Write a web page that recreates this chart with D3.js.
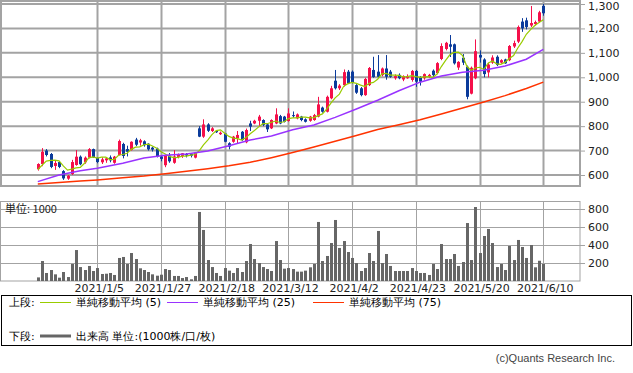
<!DOCTYPE html>
<html>
<head>
<meta charset="utf-8">
<script src="https://cdn.jsdelivr.net/npm/d3@7"></script>
<style>
  body { margin: 0; background: #fff; }
  svg text { font-family: "DejaVu Sans", sans-serif; }
</style>
</head>
<body>
<script>
// trading days, 2020/12/14 .. 2021/6/10
const dates = [
  "2020/12/14","2020/12/15","2020/12/16","2020/12/17","2020/12/18","2020/12/21","2020/12/22","2020/12/23","2020/12/24","2020/12/25",
  "2020/12/28","2020/12/29","2020/12/30","2021/1/4","2021/1/5","2021/1/6","2021/1/7","2021/1/8","2021/1/12","2021/1/13",
  "2021/1/14","2021/1/15","2021/1/18","2021/1/19","2021/1/20","2021/1/21","2021/1/22","2021/1/25","2021/1/26","2021/1/27",
  "2021/1/28","2021/1/29","2021/2/1","2021/2/2","2021/2/3","2021/2/4","2021/2/5","2021/2/8","2021/2/9","2021/2/10",
  "2021/2/12","2021/2/15","2021/2/16","2021/2/17","2021/2/18","2021/2/19","2021/2/22","2021/2/24","2021/2/25","2021/2/26",
  "2021/3/1","2021/3/2","2021/3/3","2021/3/4","2021/3/5","2021/3/8","2021/3/9","2021/3/10","2021/3/11","2021/3/12",
  "2021/3/15","2021/3/16","2021/3/17","2021/3/18","2021/3/19","2021/3/22","2021/3/23","2021/3/24","2021/3/25","2021/3/26",
  "2021/3/29","2021/3/30","2021/3/31","2021/4/1","2021/4/2","2021/4/5","2021/4/6","2021/4/7","2021/4/8","2021/4/9",
  "2021/4/12","2021/4/13","2021/4/14","2021/4/15","2021/4/16","2021/4/19","2021/4/20","2021/4/21","2021/4/22","2021/4/23",
  "2021/4/26","2021/4/27","2021/4/28","2021/4/30","2021/5/6","2021/5/7","2021/5/10","2021/5/11","2021/5/12","2021/5/13",
  "2021/5/14","2021/5/17","2021/5/18","2021/5/19","2021/5/20","2021/5/21","2021/5/24","2021/5/25","2021/5/26","2021/5/27",
  "2021/5/28","2021/5/31","2021/6/1","2021/6/2","2021/6/3","2021/6/4","2021/6/7","2021/6/8","2021/6/9","2021/6/10"];

const open = [624,645,700,686,637,653,616,585,604,641, 675,652,671,706,670,652,660,672,650,682,
  727,706,702,745,733,738,728,712,708,676, 640,680,650,674,678,686,686,671,791,757,
  807,780,780,767,770,730,736,750,777,734, 811,811,822,825,807,791,811,841,839,821,
  845,832,839,828,822,825,839,876,859,914, 986,955,968,1023,1023,968,955,927,968,1030,
  1023,1009,1036,1023,996,1010,991,996,989,1026, 1000,996,1003,1027,1017,1075,1116,1135,1135,1040,
  1080,1043,933,996,1091,1073,1020,1060,1084,1060, 1073,1070,1126,1146,1228,1233,1212,1218,1228,1292];
const high = [648,710,706,690,658,656,620,600,662,702, 680,676,710,708,672,672,672,680,678,745,
  732,720,738,752,748,742,730,716,712,680, 684,690,702,688,690,690,690,694,800,828,
  812,796,784,778,772,734,760,780,780,790, 822,826,846,828,810,828,873,846,842,873,
  860,852,842,832,842,850,920,880,925,965, 1030,972,1032,1030,1028,972,960,998,1042,1084,
  1091,1040,1091,1030,1012,1016,1008,1012,1030,1030, 1004,1016,1014,1032,1062,1139,1145,1173,1138,1066,
  1095,1048,1044,1155,1110,1078,1060,1090,1090,1074, 1076,1132,1150,1212,1242,1244,1292,1232,1272,1300];
const low = [618,636,676,628,621,628,580,580,600,638, 640,646,668,670,648,645,650,652,646,680,
  668,676,700,718,720,716,700,696,672,656, 632,650,646,668,670,672,672,668,755,752,
  776,776,772,764,734,705,732,728,740,730, 780,808,800,800,776,788,808,808,815,818,
  835,828,820,815,818,822,836,855,856,910, 950,948,962,972,975,932,922,924,964,998,
  998,1004,990,998,990,992,984,994,982,961, 966,990,998,1000,1012,1070,1110,1083,1052,1030,
  1050,910,930,992,1060,1000,1000,1055,1046,1056, 1055,1066,1120,1140,1186,1196,1206,1212,1224,1252];
const close = [645,695,682,633,649,633,586,597,653,675, 644,671,706,672,653,664,668,660,675,739,
  678,695,736,724,742,722,705,704,676,666, 680,656,676,682,689,680,679,691,757,807,
  781,791,775,773,736,716,757,764,743,784, 798,822,839,805,787,825,848,811,818,852,
  841,848,825,818,839,845,889,859,920,955, 955,966,1021,975,978,937,927,993,1038,1001,
  1002,1036,1002,1002,1005,996,1005,1005,1026,982, 982,1013,1010,1009,1058,1128,1141,1125,1057,1063,
  1060,920,1039,1107,1081,1013,1052,1081,1050,1070, 1057,1128,1140,1206,1200,1206,1222,1226,1266,1262];
// volume, in thousands
const volume = [40,222,89,122,74,37,100,44,189,344, 155,122,167,111,144,78,81,89,67,256,
  267,189,311,244,141,122,100,74,59,70, 133,122,56,56,33,44,19,56,767,567,
  233,155,89,56,144,115,89,144,100,222, 411,244,200,155,133,111,444,233,137,144,
  133,104,104,115,152,189,656,222,278,422, 678,367,444,322,256,200,111,144,311,222,
  556,200,300,167,111,111,111,111,144,111, 89,89,67,189,133,411,244,244,300,167,
  211,644,233,822,311,500,578,422,155,189, 122,389,233,456,378,256,400,152,225,189];
const ma5 = [622,640,657,660,661,658,637,620,624,629, 631,648,670,674,669,673,673,663,664,681,
  684,689,705,714,715,724,726,719,710,695, 686,676,671,672,677,677,681,684,699,723,
  743,765,782,785,771,758,751,749,743,753, 769,782,797,810,810,816,821,815,818,831,
  834,834,837,837,834,835,843,850,870,894, 916,931,963,974,979,975,968,962,975,979,
  992,1014,1016,1009,1009,1008,1002,1003,1007,1003, 1000,1002,1003,999,1014,1044,1069,1092,1102,1103,
  1089,1045,1028,1038,1041,1032,1058,1067,1055,1053, 1062,1077,1089,1120,1146,1176,1195,1212,1224,1236];
// MA25 / MA75 read at sample days
const maDates = ["2020/12/14","2020/12/21","2020/12/28","2021/1/5","2021/1/14","2021/1/21","2021/1/28","2021/2/4",
  "2021/2/12","2021/2/19","2021/3/1","2021/3/8","2021/3/15","2021/3/22","2021/3/29","2021/4/5","2021/4/12",
  "2021/4/19","2021/4/26","2021/5/7","2021/5/14","2021/5/21","2021/5/28","2021/6/4","2021/6/10"];
const ma25 = [573,600,617,628,648,670,681,686,698,720,743,760,785,805,836,870,906,945,980,1005,1021,1029,1046,1074,1114];
const ma75 = [563,569,575,580,589,596,605,615,626,638,652,671,692,715,738,762,786,806,826,850,874,899,925,954,980];

const tickLabels = ["2021/1/5","2021/1/27","2021/2/18","2021/3/12","2021/4/2","2021/4/23","2021/5/20","2021/6/10"];
const priceTicks = [600,700,800,900,1000,1100,1200,1300];
const volTicks = [200,400,600,800];

const legendTop = [
  { label: "単純移動平均 (5)", color: "#99cc00" },
  { label: "単純移動平均 (25)", color: "#9933ff" },
  { label: "単純移動平均 (75)", color: "#ff3300" }];

const upColor = "#f5104a", downColor = "#0b3b9b";
const gridColor = "#a3a3a3";

const svg = d3.select("body").append("svg")
  .attr("width", 633)
  .attr("height", 373);

const x = d3.scalePoint().domain(dates).range([37.8, 543.3]);
const y = d3.scaleLinear().domain([600, 1300]).range([175, 4]);
const yv = d3.scaleLinear().domain([0, 800]).range([281, 209]);

const px = d => Math.round(x(d)) + 0.5;

// --- top panel grid
const topG = svg.append("g");
topG.selectAll(".hg").data(priceTicks).enter().append("line")
  .attr("x1", 0).attr("x2", 580)
  .attr("y1", d => y(d)).attr("y2", d => y(d))
  .attr("stroke", gridColor).attr("stroke-width", 2);
topG.selectAll(".vg").data(tickLabels).enter().append("line")
  .attr("x1", d => px(d)).attr("x2", d => px(d))
  .attr("y1", 0).attr("y2", 186)
  .attr("stroke", gridColor).attr("stroke-width", 2);
topG.append("rect")
  .attr("x", 1).attr("y", 1).attr("width", 579).attr("height", 185)
  .attr("fill", "none").attr("stroke", gridColor).attr("stroke-width", 2);

// --- volume panel grid
const botG = svg.append("g");
botG.selectAll(".hg").data(volTicks).enter().append("line")
  .attr("x1", 0).attr("x2", 580)
  .attr("y1", d => Math.round(yv(d)) + 0.5).attr("y2", d => Math.round(yv(d)) + 0.5)
  .attr("stroke", gridColor).attr("stroke-width", 1);
botG.selectAll(".vg").data(tickLabels).enter().append("line")
  .attr("x1", d => px(d)).attr("x2", d => px(d))
  .attr("y1", 202).attr("y2", 281)
  .attr("stroke", gridColor).attr("stroke-width", 1);
botG.append("rect")
  .attr("x", 0.5).attr("y", 201.5).attr("width", 579.5).attr("height", 79.5)
  .attr("fill", "none").attr("stroke", gridColor).attr("stroke-width", 1);

// volume bars
botG.selectAll(".bar").data(dates).enter().append("rect")
  .attr("x", d => Math.round(x(d)) - 1)
  .attr("width", 3)
  .attr("y", (d, i) => yv(volume[i]))
  .attr("height", (d, i) => yv(0) - yv(volume[i]))
  .attr("fill", "#666666");

botG.append("text").attr("x", 5).attr("y", 213)
  .attr("font-size", 11).attr("fill", "#222")
  .style("font-family", "'Noto Sans CJK JP', sans-serif")
  .text("単位: 1000");

// --- candles
const candles = svg.append("g").selectAll("g").data(dates).enter().append("g");
candles.append("line")
  .attr("x1", d => px(d)).attr("x2", d => px(d))
  .attr("y1", (d, i) => y(high[i])).attr("y2", (d, i) => y(low[i]))
  .attr("stroke", (d, i) => close[i] >= open[i] ? upColor : downColor)
  .attr("stroke-width", 1);
candles.append("rect")
  .attr("x", d => Math.round(x(d)) - 1)
  .attr("width", 3)
  .attr("y", (d, i) => y(Math.max(open[i], close[i])))
  .attr("height", (d, i) => Math.max(1, Math.abs(y(open[i]) - y(close[i]))))
  .attr("fill", (d, i) => close[i] >= open[i] ? upColor : downColor);

// --- moving averages
const line5 = d3.line().x(d => x(d)).y((d, i) => y(ma5[i]));
svg.append("path").datum(dates).attr("d", line5)
  .attr("fill", "none").attr("stroke", legendTop[0].color).attr("stroke-width", 1.2);
const lineMa = arr => d3.line().x(d => x(d)).y((d, i) => y(arr[i]));
svg.append("path").datum(maDates).attr("d", lineMa(ma25))
  .attr("fill", "none").attr("stroke", legendTop[1].color).attr("stroke-width", 1.5);
svg.append("path").datum(maDates).attr("d", lineMa(ma75))
  .attr("fill", "none").attr("stroke", legendTop[2].color).attr("stroke-width", 1.5);

// --- axes
function styleAxis(g) {
  g.select(".domain").remove();
  g.selectAll(".tick line").attr("stroke", gridColor);
  g.selectAll(".tick text").attr("fill", "#222").attr("font-size", 11)
    .style("font-family", "'DejaVu Sans', sans-serif");
}
const priceAxis = svg.append("g").attr("transform", "translate(580,0)")
  .call(d3.axisRight(y).tickValues(priceTicks).tickSize(5).tickPadding(3).tickFormat(d3.format(",")))
  .call(styleAxis);
// keep the top label inside the picture
priceAxis.selectAll(".tick text").filter(d => d === 1300).attr("dy", "0.5em");
svg.append("g").attr("transform", "translate(580,0)")
  .call(d3.axisRight(yv).tickValues(volTicks).tickSize(5).tickPadding(3))
  .call(styleAxis);
svg.append("g").attr("transform", "translate(1.5,281)")
  .call(d3.axisBottom(x).tickValues(tickLabels).tickSize(0).tickPadding(3))
  .call(styleAxis);

// --- legend
const lg = svg.append("g").style("font-family", "'Noto Sans CJK JP', sans-serif");
lg.append("rect").attr("x", 1.5).attr("y", 295.5).attr("width", 630).attr("height", 50)
  .attr("fill", "none").attr("stroke", "#000");
lg.append("text").attr("x", 9).attr("y", 306).attr("font-size", 11).text("上段:");
const itemX = [40, 167, 313];
legendTop.forEach((d, i) => {
  lg.append("line").attr("x1", itemX[i]).attr("x2", itemX[i] + 31)
    .attr("y1", 302.5).attr("y2", 302.5).attr("stroke", d.color).attr("stroke-width", 1);
  lg.append("text").attr("x", itemX[i] + 36).attr("y", 306).attr("font-size", 11).text(d.label);
});
lg.append("text").attr("x", 9).attr("y", 340).attr("font-size", 11).text("下段:");
lg.append("line").attr("x1", 40).attr("x2", 71).attr("y1", 336).attr("y2", 336)
  .attr("stroke", "#666").attr("stroke-width", 3);
lg.append("text").attr("x", 76).attr("y", 340).attr("font-size", 11).text("出来高 単位:(1000株/口/枚)");

svg.append("text").attr("x", 615).attr("y", 362).attr("text-anchor", "end")
  .attr("font-size", 11).attr("fill", "#444")
  .style("font-family", "'Liberation Sans', sans-serif")
  .text("(c)Quants Research Inc.");
</script>
</body>
</html>
